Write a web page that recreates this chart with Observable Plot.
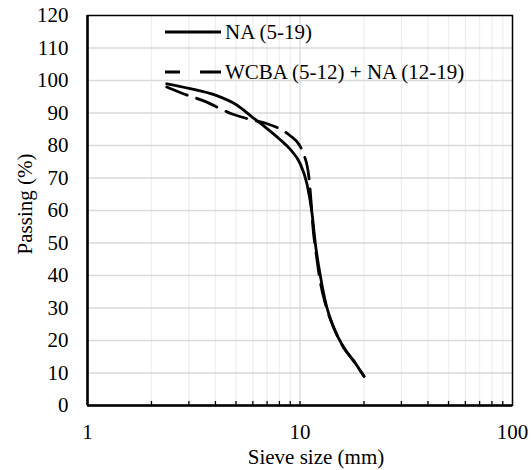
<!DOCTYPE html>
<html><head><meta charset="utf-8">
<script src="https://cdn.jsdelivr.net/npm/d3@7"></script>
<script src="https://cdn.jsdelivr.net/npm/@observablehq/plot@0.6"></script>
<style>body{margin:0;background:#fff}</style>
</head><body><div id="chart"></div>
<script>
// Data
const sizeNA  = [2.36, 3, 4, 5, 6, 7, 8, 9, 10, 10.8, 11.4, 11.8, 12.5, 13.4, 14.4, 16, 18, 20];
const passNA  = [99, 97.6, 95.5, 92.6, 88.6, 85.2, 82, 78.8, 74.5, 68, 59, 50, 39.5, 30, 24, 18, 13.5, 9];
const sizeMix = [2.36, 2.8, 3.5, 4.8, 6, 7, 8.3, 9, 9.9, 10.4, 11, 11.3, 11.5, 11.9, 12.5, 13.2, 14.4, 16, 18, 20];
const passMix = [98, 96, 93.8, 89.7, 87.8, 86.7, 84.6, 83, 80.3, 77.4, 70.5, 62, 55, 47, 37.5, 31, 24, 18, 13.5, 9];
const seriesNames = ["NA (5-19)", "WCBA (5-12) + NA (12-19)"];
const xTicks = [1, 10, 100];
const xMinor = [2, 3, 4, 5, 6, 7, 8, 9, 20, 30, 40, 50, 60, 70, 80, 90];
const yTicks = [0, 10, 20, 30, 40, 50, 60, 70, 80, 90, 100, 110, 120];
const xTitle = "Sieve size (mm)";
const yTitle = "Passing (%)";

const na = sizeNA.map((s, i) => ({s, p: passNA[i]}));
const mix = sizeMix.map((s, i) => ({s, p: passMix[i]}));

const FONT = "'Liberation Serif', 'Times New Roman', serif";
const svg = Plot.plot({
  width: 532, height: 470,
  marginLeft: 87, marginRight: 20, marginTop: 15, marginBottom: 65,
  style: {fontFamily: FONT, fontSize: "21px", color: "#000", background: "#fff", overflow: "visible"},
  x: {type: "log", domain: [1, 100]},
  y: {domain: [0, 120]},
  marks: [
    Plot.gridX(xMinor, {stroke: "#efefef", strokeOpacity: 1, strokeWidth: 1.3}),
    Plot.gridX([10], {stroke: "#d9d9d9", strokeOpacity: 1, strokeWidth: 1.3}),
    Plot.gridY(yTicks.filter(v => v > 0 && v < 120), {stroke: "#d9d9d9", strokeOpacity: 1, strokeWidth: 1.3}),
    Plot.ruleX(xMinor.concat([10]), {y1: 0, y2: 0, insetBottom: 4, stroke: "#000", strokeWidth: 1.3}),
    Plot.frame({stroke: "#000", strokeWidth: 1.5}),
    Plot.ruleX([1], {stroke: "#000", strokeWidth: 2.5}),
    Plot.ruleY([0], {stroke: "#000", strokeWidth: 2.5}),
    Plot.line(mix, {x: "s", y: "p", curve: "monotone-x", stroke: "#000", strokeWidth: 2.8, strokeDasharray: "22,10"}),
    Plot.line(na, {x: "s", y: "p", curve: "monotone-x", stroke: "#000", strokeWidth: 2.8}),
    Plot.axisX(xTicks, {tickSize: 0, tickPadding: 19, label: null, tickFormat: d => String(d), fontFamily: FONT}),
    Plot.axisY(yTicks, {tickSize: 0, tickPadding: 19, label: null, tickFormat: d => String(d), fontFamily: FONT})
  ]
});
svg.setAttribute("font-family", FONT);
document.getElementById("chart").appendChild(svg);

const s = d3.select(svg);
s.append("text").attr("x", 316).attr("y", 457).attr("text-anchor", "middle")
  .attr("dominant-baseline", "central").style("font-family", FONT).attr("font-size", 21)
  .attr("fill", "#000").text(xTitle);
s.append("text").attr("transform", "translate(25,204) rotate(-90)").attr("text-anchor", "middle")
  .attr("dominant-baseline", "central").style("font-family", FONT).attr("font-size", 21)
  .attr("fill", "#000").text(yTitle);

// Legend
const lg = s.append("g");
lg.append("line").attr("x1", 165).attr("x2", 221).attr("y1", 32).attr("y2", 32)
  .attr("stroke", "#000").attr("stroke-width", 2.8);
lg.append("line").attr("x1", 165).attr("x2", 221).attr("y1", 72).attr("y2", 72)
  .attr("stroke", "#000").attr("stroke-width", 2.8).attr("stroke-dasharray", "15,20,21,5");
lg.selectAll("text.l").data(seriesNames).join("text").attr("class", "l")
  .attr("x", 225).attr("y", (d, i) => 32 + i * 40).attr("dominant-baseline", "central")
  .attr("text-anchor", "start")
  .style("font-family", FONT).attr("font-size", 21).attr("fill", "#000").text(d => d);
</script>
</body></html>
